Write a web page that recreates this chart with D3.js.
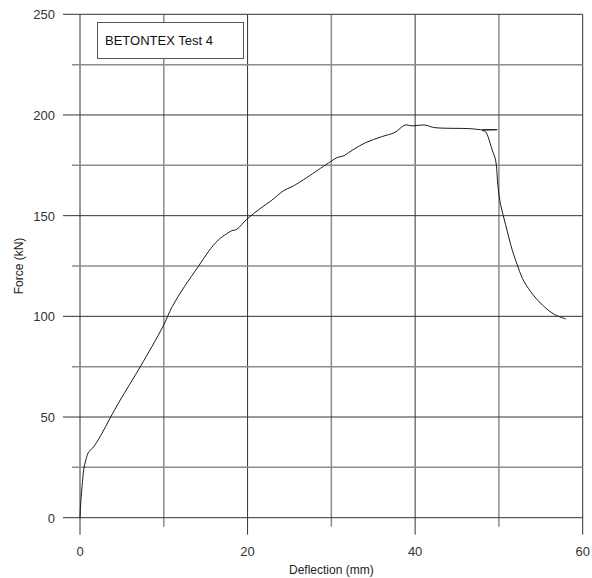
<!DOCTYPE html>
<html>
<head>
<meta charset="utf-8">
<script src="https://cdn.jsdelivr.net/npm/d3@7"></script>
<style>
body{margin:0;background:#fff;}
text{font-family:"Liberation Sans",Arial,sans-serif;}
</style>
</head>
<body>
<script>
// values
const deflection=[0,0.1,0.3,0.45,0.7,1.05,1.5,2.5,3.6,4.8,7.2,9.9,11.0,12.5,14.1,15.3,16.5,17.5,18.1,18.7,19.9,21.5,22.9,24.3,25.3,26.1,28.7,29.9,30.7,31.4,32.5,34.05,36.0,37.6,38.8,39.6,41.2,42.2,46.6,47.8,49.8,48.0,48.4,49.2,49.6,49.9,50.2,50.8,51.6,52.2,52.8,53.8,55.2,56.6,58.0];
const force=[0,8,18,24,28.7,32.8,34.5,41,49.5,58.4,75,95,104.8,115,124.6,132,137.9,141,142.5,143.2,148.2,153.5,157.7,162.4,164.4,166.3,173.5,176.8,178.9,179.6,182.5,186.2,189.2,191.4,195,194.6,195,193.8,193.2,192.7,192.7,192.3,191.7,182.6,177.6,164,155.5,145.5,132.8,125.5,118.9,112.2,105.6,101,98.7];
const xGrid=[0,10,20,30,40,50,60];
const xLabels=[0,20,40,60];
const yGrid=[0,25,50,75,100,125,150,175,200,225,250];
const yLabels=[0,50,100,150,200,250];
const title='BETONTEX Test 4';

const width=592,height=578;
const m={left:80,right:9.3,top:14.3,bottom:60.3};

let svg=d3.select('body').append('svg').attr('width',width).attr('height',height);

let x=d3.scaleLinear().domain([0,60]).range([m.left,width-m.right]);
let y=d3.scaleLinear().domain([0,250]).range([height-m.bottom,m.top]);

// vertical grid
svg.append('g').selectAll('line').data(xGrid).enter().append('line')
  .attr('x1',d=>x(d)).attr('x2',d=>x(d))
  .attr('y1',y(250))
  .attr('y2',d=>xLabels.includes(d)?y(0)+17:y(0)+9)
  .attr('stroke',d=>xLabels.includes(d)?'#333':'#8c8c8c')
  .attr('stroke-width',d=>xLabels.includes(d)?1:1.5);

// horizontal grid
svg.append('g').selectAll('line').data(yGrid).enter().append('line')
  .attr('y1',d=>y(d)).attr('y2',d=>y(d))
  .attr('x2',x(60))
  .attr('x1',d=>yLabels.includes(d)?x(0)-17:x(0)-8)
  .attr('stroke',d=>yLabels.includes(d)?'#333':'#8c8c8c')
  .attr('stroke-width',d=>yLabels.includes(d)?1:1.5);

// tick labels
svg.append('g').selectAll('text').data(xLabels).enter().append('text')
  .attr('x',d=>x(d)).attr('y',y(0)+38)
  .attr('text-anchor','middle').attr('font-size',13).attr('fill','#333')
  .text(d=>d);
svg.append('g').selectAll('text').data(yLabels).enter().append('text')
  .attr('x',55).attr('y',d=>y(d)+5)
  .attr('text-anchor','end').attr('font-size',13).attr('fill','#333')
  .text(d=>d);

// axis titles
svg.append('text').text('Deflection (mm)')
  .attr('x',(x(0)+x(60))/2).attr('y',574)
  .attr('text-anchor','middle').attr('font-size',12).attr('fill','#222');
svg.append('text').text('Force (kN)')
  .attr('transform',`translate(23,${(y(0)+y(250))/2}) rotate(-90)`)
  .attr('text-anchor','middle').attr('font-size',12).attr('fill','#222');

// curve
let pts=deflection.map((d,i)=>[d,force[i]]);
svg.append('path').datum(pts)
  .attr('d',d3.line().curve(d3.curveCatmullRom.alpha(0.5)).x(d=>x(d[0])).y(d=>y(d[1])))
  .attr('fill','none').attr('stroke','#1a1a1a').attr('stroke-width',1);

// legend box
let lg=svg.append('g');
lg.append('rect').attr('x',97.5).attr('y',22.5).attr('width',146).attr('height',36)
  .attr('fill','#fff').attr('stroke','#555').attr('stroke-width',1);
lg.append('text').text(title).attr('x',105).attr('y',45)
  .attr('font-size',13).attr('fill','#111');
</script>
</body>
</html>
